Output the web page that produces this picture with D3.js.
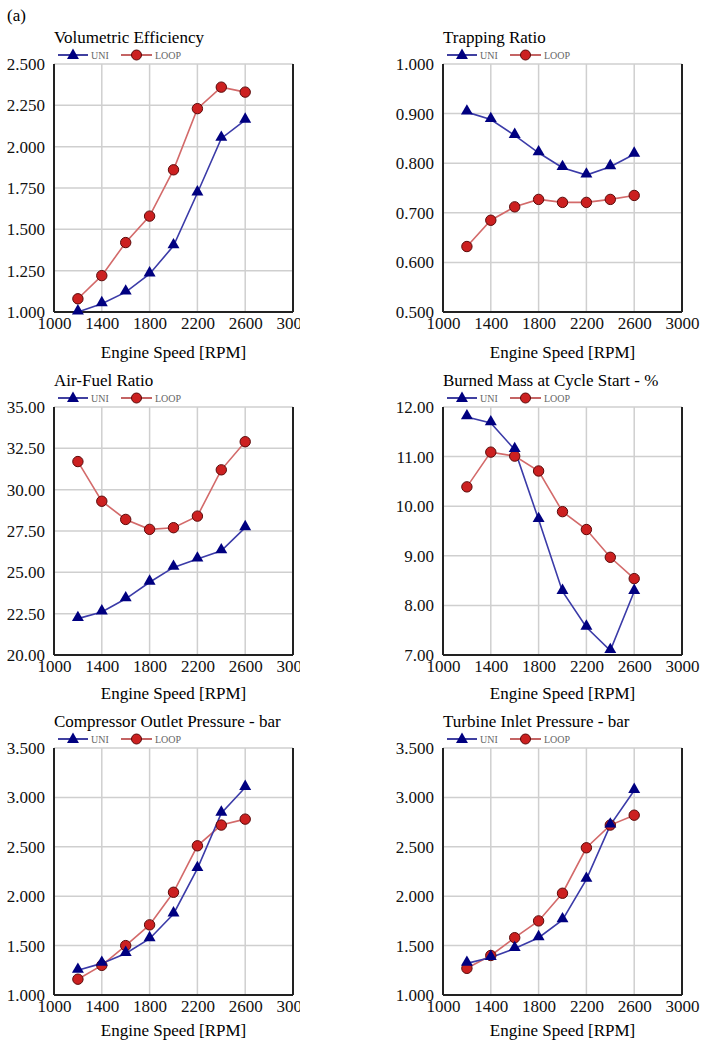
<!DOCTYPE html>
<html>
<head>
<meta charset="utf-8">
<script src="https://cdn.jsdelivr.net/npm/d3@7"></script>
<style>
  body { margin: 0; background: #fff; }
</style>
</head>
<body>
<div id="chart"></div>
<script>
// ---------------------------------------------------------------
//                     DATA
// ---------------------------------------------------------------
const rpm = [1200, 1400, 1600, 1800, 2000, 2200, 2400, 2600];
const xTicks = [1000, 1400, 1800, 2200, 2600, 3000];

const volEffUni  = [1.00, 1.05, 1.12, 1.23, 1.40, 1.72, 2.05, 2.16];
const volEffLoop = [1.08, 1.22, 1.42, 1.58, 1.86, 2.23, 2.36, 2.33];

const trapUni  = [0.903, 0.888, 0.856, 0.821, 0.791, 0.776, 0.793, 0.818];
const trapLoop = [0.632, 0.685, 0.712, 0.727, 0.721, 0.721, 0.727, 0.735];

const afrUni  = [22.2, 22.6, 23.4, 24.4, 25.3, 25.8, 26.3, 27.7];
const afrLoop = [31.7, 29.3, 28.2, 27.6, 27.7, 28.4, 31.2, 32.9];

const burnedUni  = [11.80, 11.68, 11.14, 9.73, 8.28, 7.56, 7.09, 8.28];
const burnedLoop = [10.39, 11.09, 11.01, 10.71, 9.89, 9.53, 8.97, 8.54];

const compUni  = [1.25, 1.32, 1.42, 1.57, 1.82, 2.28, 2.84, 3.10];
const compLoop = [1.16, 1.30, 1.50, 1.71, 2.04, 2.51, 2.72, 2.78];

const turbUni  = [1.32, 1.38, 1.47, 1.58, 1.76, 2.17, 2.72, 3.07];
const turbLoop = [1.27, 1.40, 1.58, 1.75, 2.03, 2.49, 2.72, 2.82];

const titles = ["Volumetric Efficiency", "Trapping Ratio", "Air-Fuel Ratio",
                "Burned Mass at Cycle Start - %", "Compressor Outlet Pressure - bar",
                "Turbine Inlet Pressure - bar"];
const yDomains = [[1.0, 2.5], [0.5, 1.0], [20, 35], [7, 12], [1.0, 3.5], [1.0, 3.5]];
const yTicks = [
  [1.0, 1.25, 1.5, 1.75, 2.0, 2.25, 2.5],
  [0.5, 0.6, 0.7, 0.8, 0.9, 1.0],
  [20, 22.5, 25, 27.5, 30, 32.5, 35],
  [7, 8, 9, 10, 11, 12],
  [1.0, 1.5, 2.0, 2.5, 3.0, 3.5],
  [1.0, 1.5, 2.0, 2.5, 3.0, 3.5]
];
const yFormats = [".3f", ".3f", ".2f", ".2f", ".3f", ".3f"];
const uniSeries  = [volEffUni, trapUni, afrUni, burnedUni, compUni, turbUni];
const loopSeries = [volEffLoop, trapLoop, afrLoop, burnedLoop, compLoop, turbLoop];

// ---------------------------------------------------------------
//                     LAYOUT CONSTANTS
// ---------------------------------------------------------------
const WIDTH = 702, HEIGHT = 1044;
const COL_LEFT = [54, 443];
const ROW_TOP = [64, 407, 748];
const ROW_H = [248, 248, 247];
const XLABEL_OFFSET = [46, 44, 41];
const PLOT_W = 239;
const FONT_SIZE = 17;

const UNI_MARK = "#000080", UNI_LINE = "#3b3ba8";
const LOOP_MARK = "#cc2020", LOOP_LINE = "#d36a6a";
const GRID = "#cfcfcf";

const svg = d3.select("#chart").append("svg")
  .attr("width", WIDTH)
  .attr("height", HEIGHT);

svg.append("text")
  .attr("x", 7).attr("y", 21)
  .attr("font-size", 17)
  .text("(a)");

svg.append("defs").append("clipPath")
  .attr("id", "leftClip")
  .append("rect")
  .attr("x", 0).attr("y", 0).attr("width", 300).attr("height", HEIGHT);

const triangle = d3.symbol().type(d3.symbolTriangle).size(62);

titles.forEach((title, i) => {
  const col = i % 2, row = Math.floor(i / 2);
  const left = COL_LEFT[col], top = ROW_TOP[row];
  const PLOT_H = ROW_H[row];

  const outer = svg.append("g");
  if (col === 0) outer.attr("clip-path", "url(#leftClip)");
  const g = outer.append("g").attr("transform", `translate(${left},${top})`);

  const x = d3.scaleLinear().domain([1000, 3000]).range([0, PLOT_W]);
  const y = d3.scaleLinear().domain(yDomains[i]).range([PLOT_H, 0]);

  // grid
  g.append("g").selectAll("line")
    .data(xTicks.slice(1, -1))
    .join("line")
    .attr("x1", d => x(d)).attr("x2", d => x(d))
    .attr("y1", 0).attr("y2", PLOT_H)
    .attr("stroke", GRID).attr("stroke-width", 1.5);
  g.append("g").selectAll("line")
    .data(yTicks[i].slice(1))
    .join("line")
    .attr("x1", 0).attr("x2", PLOT_W)
    .attr("y1", d => y(d)).attr("y2", d => y(d))
    .attr("stroke", GRID).attr("stroke-width", 1.5);

  // right border + bottom/left axis lines
  g.append("line")
    .attr("x1", PLOT_W).attr("x2", PLOT_W).attr("y1", 0).attr("y2", PLOT_H)
    .attr("stroke", "#222").attr("stroke-width", 2);
  g.append("line")
    .attr("x1", 0).attr("x2", 0).attr("y1", 0).attr("y2", PLOT_H)
    .attr("stroke", "#222").attr("stroke-width", 2);
  g.append("line")
    .attr("x1", 0).attr("x2", PLOT_W).attr("y1", PLOT_H).attr("y2", PLOT_H)
    .attr("stroke", "#222").attr("stroke-width", 2);

  // tick labels via d3 axes
  const xAxis = g.append("g")
    .attr("transform", `translate(0,${PLOT_H})`)
    .call(d3.axisBottom(x).tickValues(xTicks).tickSize(0).tickPadding(5).tickFormat(d3.format("d")))
    .attr("font-size", FONT_SIZE);
  xAxis.select(".domain").remove();
  xAxis.selectAll("text").attr("fill", "#111");

  const yAxis = g.append("g")
    .call(d3.axisLeft(y).tickValues(yTicks[i]).tickSize(0).tickPadding(9).tickFormat(d3.format(yFormats[i])))
    .attr("font-size", FONT_SIZE);
  yAxis.select(".domain").remove();
  yAxis.selectAll("text").attr("fill", "#111");

  g.append("text")
    .attr("x", PLOT_W / 2).attr("y", PLOT_H + XLABEL_OFFSET[row])
    .attr("text-anchor", "middle")
    .attr("font-size", FONT_SIZE)
    .text("Engine Speed [RPM]");

  // title
  g.append("text")
    .attr("x", 0).attr("y", -21)
    .attr("font-size", FONT_SIZE)
    .text(title);

  // legend
  const leg = g.append("g").attr("transform", "translate(4,-9)");
  leg.append("line").attr("x1", 0).attr("x2", 30).attr("y1", 0).attr("y2", 0)
    .attr("stroke", UNI_MARK).attr("stroke-width", 1.5);
  leg.append("path").attr("d", triangle).attr("transform", "translate(15,0.5)")
    .attr("fill", UNI_MARK);
  leg.append("text").attr("x", 33).attr("y", 3.5).attr("font-size", 10)
    .attr("fill", "#666").text("UNI");
  leg.append("line").attr("x1", 63).attr("x2", 94).attr("y1", 0).attr("y2", 0)
    .attr("stroke", "#b03030").attr("stroke-width", 1.5);
  leg.append("circle").attr("cx", 78.5).attr("cy", 0).attr("r", 5)
    .attr("fill", LOOP_MARK).attr("stroke", "#5a0a0a").attr("stroke-width", 1);
  leg.append("text").attr("x", 97).attr("y", 3.5).attr("font-size", 10)
    .attr("fill", "#666").text("LOOP");

  // lines
  const uniData = rpm.map((r, k) => ({ rpm: r, v: uniSeries[i][k] }));
  const loopData = rpm.map((r, k) => ({ rpm: r, v: loopSeries[i][k] }));
  const lineGen = d3.line().x(d => x(d.rpm)).y(d => y(d.v));

  g.append("path").datum(loopData).attr("d", lineGen)
    .attr("fill", "none").attr("stroke", LOOP_LINE).attr("stroke-width", 1.6);
  g.append("path").datum(uniData).attr("d", lineGen)
    .attr("fill", "none").attr("stroke", UNI_LINE).attr("stroke-width", 1.6);

  g.append("g").selectAll("circle")
    .data(loopData)
    .join("circle")
    .attr("cx", d => x(d.rpm)).attr("cy", d => y(d.v)).attr("r", 5.2)
    .attr("fill", LOOP_MARK).attr("stroke", "#5a0a0a").attr("stroke-width", 1);

  g.append("g").selectAll("path")
    .data(uniData)
    .join("path")
    .attr("d", triangle)
    .attr("transform", d => `translate(${x(d.rpm)},${y(d.v) - 1})`)
    .attr("fill", UNI_MARK);
});

// serif everywhere (the axes set their own sans-serif attribute)
svg.selectAll("g").attr("font-family", null);
svg.selectAll("text").style("font-family", "'Liberation Serif'");
</script>
</body>
</html>
